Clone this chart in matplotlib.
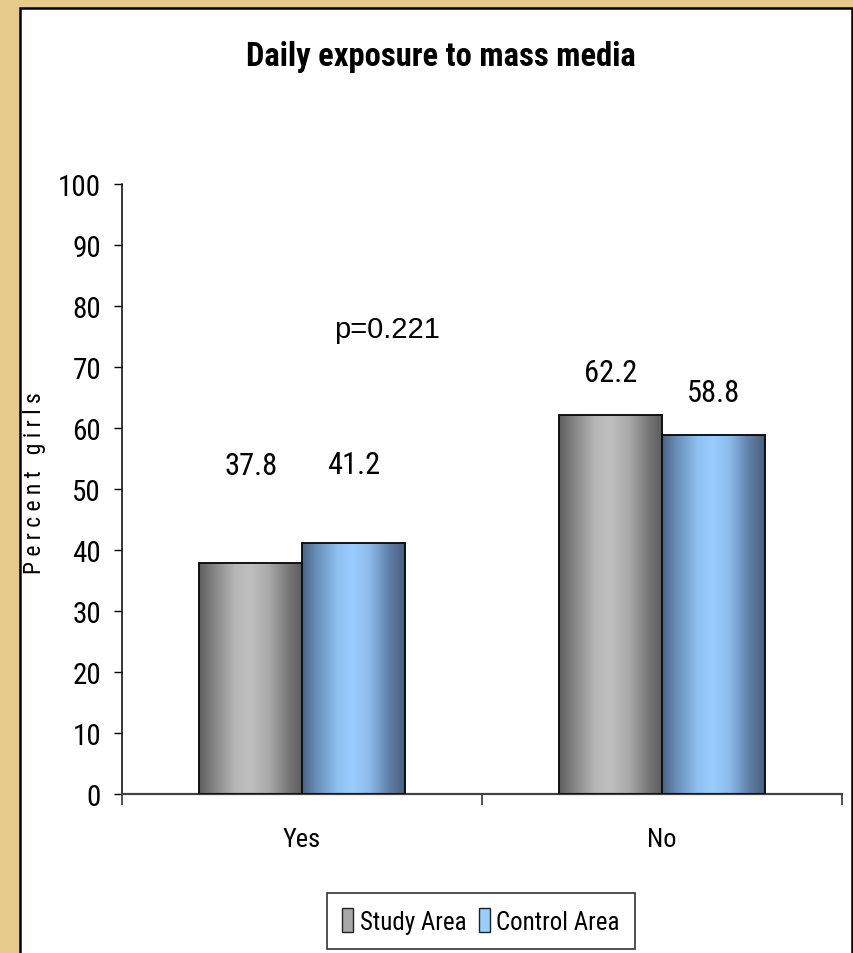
import os
import numpy as np
import matplotlib
matplotlib.use('Agg')
import matplotlib.pyplot as plt
from matplotlib import font_manager
from matplotlib.font_manager import FontProperties
from matplotlib.colors import LinearSegmentedColormap
from matplotlib.patches import Rectangle, Patch

# 数据
categories = ['Yes', 'No']
series_names = ['Study Area', 'Control Area']
study_values = [37.8, 62.2]
control_values = [41.2, 58.8]
p_text = 'p=0.221'
title_text = 'Daily exposure to mass media'
ylabel_text = 'Percent girls'


# 找一个窄体字体文件, 找不到就用 Liberation Sans
def find_font(candidates):
    files = {os.path.basename(f.fname): f.fname for f in font_manager.fontManager.ttflist}
    for c in candidates:
        if c in files:
            return files[c]
    return None


narrow_path = find_font(['LiberationSansNarrow-Regular.ttf', 'RobotoCondensed-Regular.ttf',
                         'DejaVuSansCondensed.ttf'])
narrow_bold_path = find_font(['LiberationSansNarrow-Bold.ttf', 'RobotoCondensed-Bold.ttf',
                              'DejaVuSansCondensed-Bold.ttf'])


def nfont(size, bold=False):
    path = narrow_bold_path if bold else narrow_path
    if path:
        return FontProperties(fname=path, size=size)
    return FontProperties(family='Liberation Sans', size=size * 0.9,
                          weight='bold' if bold else 'normal')


fig = plt.figure(figsize=(8.54, 9.54), dpi=100)
fig.patch.set_facecolor('#e6ca8c')

# 白色面板
panel = Rectangle((20 / 854, -0.02), 832 / 854, 1 - 9 / 954 + 0.02,
                  transform=fig.transFigure, facecolor='white',
                  edgecolor='black', linewidth=1.8, zorder=-1)
fig.patches.append(panel)

ax = fig.add_axes([122 / 854, 1 - 795 / 954, 720 / 854, 610 / 954])
ax.set_zorder(2)
ax.set_facecolor('none')

x = np.arange(len(categories))
width = 0.285

bars_s = ax.bar(x - width / 2, study_values, width, facecolor='none',
                edgecolor='#111111', linewidth=1.4, zorder=3)
bars_c = ax.bar(x + width / 2, control_values, width, facecolor='none',
                edgecolor='#111111', linewidth=1.4, zorder=3)

# 圆柱状渐变
gray_cmap = LinearSegmentedColormap.from_list('g', [
    (0.0, '#5e5e5e'), (0.15, '#868686'), (0.35, '#b6b6b6'), (0.5, '#bfbfbf'),
    (0.68, '#a9a9a9'), (0.85, '#7c7c7c'), (1.0, '#5c5c5c')])
blue_cmap = LinearSegmentedColormap.from_list('b', [
    (0.0, '#4a6282'), (0.15, '#6b91bc'), (0.35, '#90c2f2'), (0.5, '#99ccff'),
    (0.66, '#8cbaea'), (0.85, '#5f80a6'), (1.0, '#4a5f7e')])
grad = np.linspace(0, 1, 256).reshape(1, -1)

for bars, cmap in [(bars_s, gray_cmap), (bars_c, blue_cmap)]:
    for b in bars:
        bx, by = b.get_x(), b.get_y()
        bw, bh = b.get_width(), b.get_height()
        im = ax.imshow(grad, extent=[bx, bx + bw, by, by + bh], aspect='auto',
                       cmap=cmap, interpolation='bicubic', zorder=2)
        im.set_clip_path(b)

# 数值标签 (偏移量, 像素)
label_offsets = [[98, 42], [78, 43]]
for bars, vals, offs in [(bars_s, study_values, label_offsets[0]),
                         (bars_c, control_values, label_offsets[1])]:
    for b, v, off in zip(bars, vals, offs):
        ax.annotate(f'{v:.1f}', xy=(b.get_x() + b.get_width() / 2, v),
                    xytext=(0, off * 72 / 100), textcoords='offset points',
                    ha='center', va='center', fontproperties=nfont(22))

ax.text(0.235, 76.2, p_text, ha='center', va='center', fontsize=21, family='Liberation Sans')

ax.set_xlim(-0.5, 1.5)
ax.set_ylim(0, 100)
ax.set_yticks(np.arange(0, 101, 10))
ax.set_xticks(x)
ax.set_xticklabels(categories, fontproperties=nfont(19))
ax.set_xticks([-0.5, 0.5, 1.5], minor=True)
ax.tick_params(axis='x', which='major', length=0, pad=24)
ax.tick_params(axis='x', which='minor', length=8, width=1.2, color='#333333', direction='out')
ax.tick_params(axis='y', length=6, width=1, direction='out', pad=9)
for lab in ax.get_yticklabels():
    lab.set_fontproperties(nfont(21))

for s in ['top', 'right']:
    ax.spines[s].set_visible(False)
ax.spines['left'].set_linewidth(1.1)
ax.spines['bottom'].set_color('#444444')
ax.spines['bottom'].set_linewidth(1.6)

fig.text(35 / 854, 1 - 483 / 954, ' '.join(ylabel_text), rotation=90,
         ha='center', va='center', fontproperties=nfont(17))

fig.text(441 / 854, 1 - 57 / 954, title_text, ha='center', va='center',
         fontproperties=nfont(23.5, bold=True))

handles = [Patch(facecolor='#a8a8a8', edgecolor='#222222', linewidth=1),
           Patch(facecolor='#99ccff', edgecolor='#222222', linewidth=1)]
leg = fig.legend(handles, series_names, loc='center',
                 bbox_to_anchor=(481 / 854, 1 - 922 / 954),
                 ncol=2, frameon=True, fancybox=False, shadow=False,
                 prop=nfont(18),
                 handlelength=0.45, handleheight=1.1, handletextpad=0.25,
                 columnspacing=0.5, borderpad=0.6, borderaxespad=0)
leg.get_frame().set_edgecolor('black')
leg.get_frame().set_linewidth(1.2)

fig.savefig('out.png', dpi=100, facecolor=fig.get_facecolor())
